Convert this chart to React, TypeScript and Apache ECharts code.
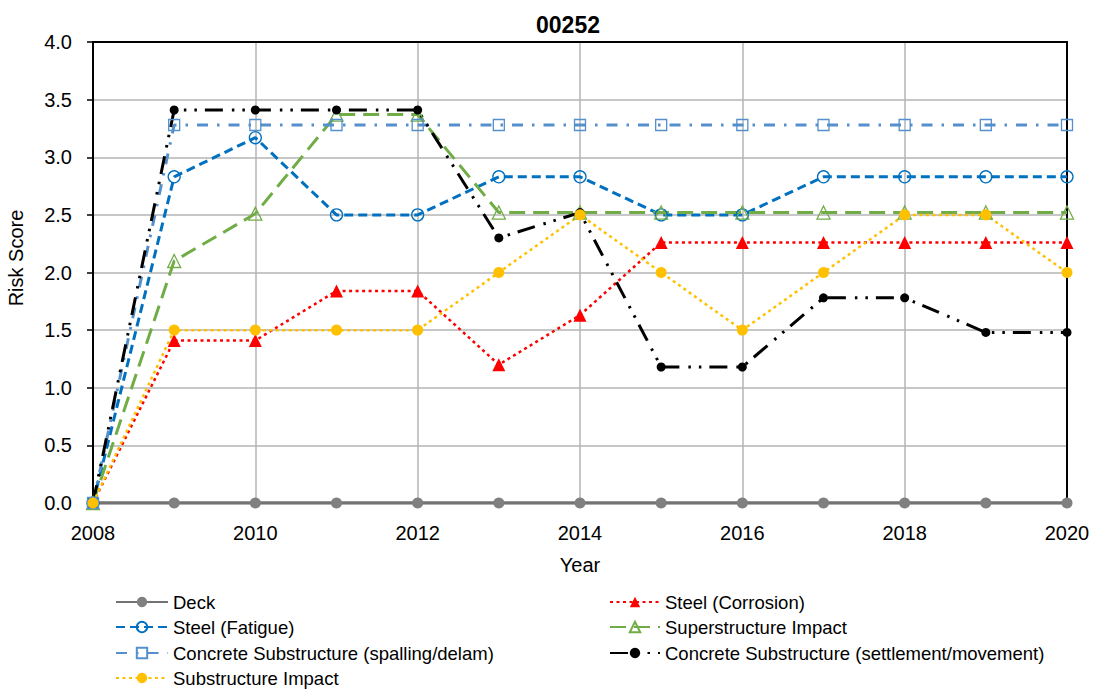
import React, { useEffect, useRef } from "react";
import * as echarts from "echarts";

const years = [2008, 2009, 2010, 2011, 2012, 2013, 2014, 2015, 2016, 2017, 2018, 2019, 2020];
const deck = [0, 0, 0, 0, 0, 0, 0, 0, 0, 0, 0, 0, 0];
const steelCorrosion = [0, 1.41, 1.41, 1.84, 1.84, 1.2, 1.63, 2.26, 2.26, 2.26, 2.26, 2.26, 2.26];
const steelFatigue = [0, 2.83, 3.17, 2.5, 2.5, 2.83, 2.83, 2.5, 2.5, 2.83, 2.83, 2.83, 2.83];
const superstructureImpact = [0, 2.1, 2.51, 3.37, 3.37, 2.52, 2.52, 2.52, 2.52, 2.52, 2.52, 2.52, 2.52];
const concreteSpalling = [0, 3.28, 3.28, 3.28, 3.28, 3.28, 3.28, 3.28, 3.28, 3.28, 3.28, 3.28, 3.28];
const concreteSettlement = [0, 3.41, 3.41, 3.41, 3.41, 2.3, 2.52, 1.18, 1.18, 1.78, 1.78, 1.48, 1.48];
const substructureImpact = [0, 1.5, 1.5, 1.5, 1.5, 2.0, 2.5, 2.0, 1.5, 2.0, 2.5, 2.5, 2.0];

const seriesNames = [
  "Deck",
  "Steel (Corrosion)",
  "Steel (Fatigue)",
  "Superstructure Impact",
  "Concrete Substructure (spalling/delam)",
  "Concrete Substructure (settlement/movement)",
  "Substructure Impact",
];

const FONT = "'Liberation Sans', Arial, sans-serif";
const CLEAR = "rgba(255,255,255,0)";

function pairs(vals: number[]) {
  return years.map((y, i) => [y, vals[i]]);
}

export default function App() {
  const ref = useRef<HTMLDivElement>(null);
  useEffect(() => {
    if (!ref.current) return;
    const chart = echarts.init(ref.current, null, { renderer: "svg" });

    const legendPos = [
      { left: 115, top: 592, w: 52 },
      { left: 609, top: 592, w: 50 },
      { left: 115, top: 617, w: 52 },
      { left: 609, top: 617, w: 50 },
      { left: 115, top: 643, w: 52 },
      { left: 609, top: 643, w: 50 },
      { left: 115, top: 668, w: 52 },
    ];

    const legends = seriesNames.map((n, i) => ({
      data: [n],
      left: legendPos[i].left,
      top: legendPos[i].top,
      itemWidth: legendPos[i].w,
      itemHeight: 13,
      padding: 0,
      selectedMode: false,
      textStyle: { fontFamily: FONT, fontSize: 18.5, color: "#000", lineHeight: 20 },
    }));

    const axisText = { fontFamily: FONT, fontSize: 20, color: "#000" };

    chart.setOption({
      animation: false,
      backgroundColor: "#fff",
      title: {
        text: "00252",
        left: 563,
        top: 8,
        textAlign: "center",
        textStyle: { fontFamily: FONT, fontSize: 23, fontWeight: "bold", color: "#000" },
      },
      legend: legends,
      grid: { left: 93, right: 31, top: 42, bottom: 189, containLabel: false },
      xAxis: [
        {
          type: "value",
          min: 2008,
          max: 2020,
          interval: 2,
          name: "Year",
          nameLocation: "middle",
          nameGap: 52,
          nameTextStyle: { ...axisText },
          axisLine: { show: true, onZero: false, lineStyle: { color: "#000", width: 2 } },
          axisTick: { show: false },
          axisLabel: { ...axisText, margin: 20, formatter: (v: number) => String(v) },
          splitLine: { show: true, showMinLine: false, showMaxLine: false, lineStyle: { color: "#b5b5b5", width: 1.5 } },
        },
        {
          type: "value",
          position: "top",
          min: 2008,
          max: 2020,
          interval: 2,
          axisLine: { show: true, onZero: false, lineStyle: { color: "#000", width: 2 } },
          axisTick: { show: false },
          axisLabel: { show: false },
          splitLine: { show: false },
        },
      ],
      yAxis: [
        {
          type: "value",
          min: 0,
          max: 4,
          interval: 0.5,
          axisLine: { show: true, onZero: false, lineStyle: { color: "#000", width: 2 } },
          axisTick: { show: true, inside: false, length: 6, lineStyle: { color: "#000", width: 1.5 } },
          axisLabel: { ...axisText, margin: 21, formatter: (v: number) => v.toFixed(1) },
          splitLine: { show: true, showMinLine: false, showMaxLine: false, lineStyle: { color: "#b5b5b5", width: 1.5 } },
        },
        {
          type: "value",
          position: "right",
          min: 0,
          max: 4,
          interval: 0.5,
          axisLine: { show: true, onZero: false, lineStyle: { color: "#000", width: 2 } },
          axisTick: { show: false },
          axisLabel: { show: false },
          splitLine: { show: false },
        },
      ],
      graphic: [
        {
          type: "text",
          x: 16,
          y: 258,
          rotation: Math.PI / 2,
          style: {
            text: "Risk Score",
            fontFamily: FONT,
            fontSize: 20,
            fill: "#000",
            textAlign: "center",
            textVerticalAlign: "middle",
          },
        },
      ],
      series: [
        {
          name: seriesNames[0],
          type: "line",
          data: pairs(deck),
          symbol: "circle",
          symbolSize: 11,
          lineStyle: { color: "#737373", width: 3.5, type: "solid" },
          itemStyle: { color: "#808080" },
        },
        {
          name: seriesNames[1],
          type: "line",
          data: pairs(steelCorrosion),
          symbol: "triangle",
          symbolSize: 13,
          lineStyle: { color: "#ff0000", width: 2.5, type: [3, 3.5] },
          itemStyle: { color: "#ff0000" },
        },
        {
          name: seriesNames[2],
          type: "line",
          data: pairs(steelFatigue),
          symbol: "circle",
          symbolSize: 12,
          lineStyle: { color: "#0070c0", width: 3, type: [9, 5] },
          itemStyle: { color: CLEAR, borderColor: "#0070c0", borderWidth: 1.3 },
        },
        {
          name: seriesNames[3],
          type: "line",
          data: pairs(superstructureImpact),
          symbol: "triangle",
          symbolSize: 13,
          lineStyle: { color: "#70ad47", width: 3, type: [16, 8] },
          itemStyle: { color: CLEAR, borderColor: "#70ad47", borderWidth: 1.3 },
        },
        {
          name: seriesNames[4],
          type: "line",
          data: pairs(concreteSpalling),
          symbol: "rect",
          symbolSize: 11,
          lineStyle: { color: "#5590cc", width: 3, type: [11, 9, 2.5, 9] },
          itemStyle: { color: CLEAR, borderColor: "#5590cc", borderWidth: 1.3 },
        },
        {
          name: seriesNames[5],
          type: "line",
          data: pairs(concreteSettlement),
          symbol: "circle",
          symbolSize: 9,
          lineStyle: { color: "#000000", width: 3, type: [18, 9, 2.5, 8, 2.5, 8] },
          itemStyle: { color: "#000000" },
        },
        {
          name: seriesNames[6],
          type: "line",
          data: pairs(substructureImpact),
          symbol: "circle",
          symbolSize: 11,
          lineStyle: { color: "#ffc000", width: 2.5, type: [3, 3.5] },
          itemStyle: { color: "#ffc000" },
        },
      ],
    });
    return () => chart.dispose();
  }, []);

  return (
    <div
      ref={ref}
      style={{ position: "fixed", left: 0, top: 0, width: 1098, height: 692, background: "#fff" }}
    />
  );
}
